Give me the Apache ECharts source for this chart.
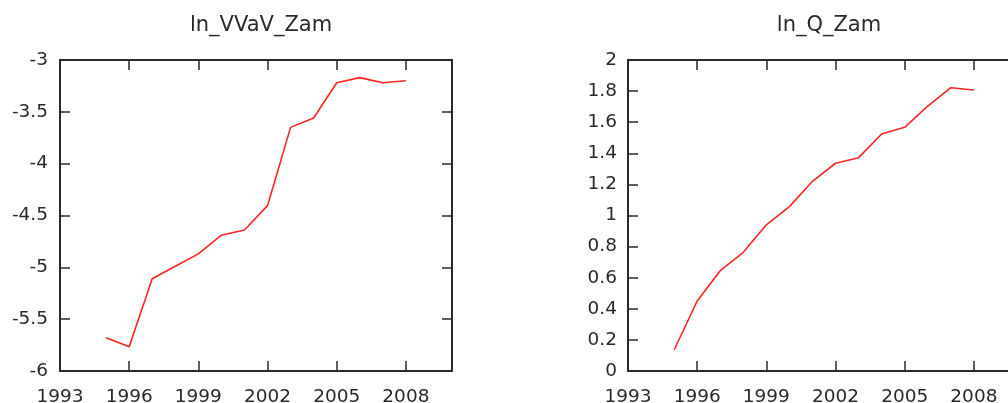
<!DOCTYPE html>
<html>
<head>
<meta charset="utf-8">
<script src="https://cdn.jsdelivr.net/npm/echarts@6/dist/echarts.min.js"></script>
<style>
  html, body { margin: 0; padding: 0; background: #fff; }
  #chart { width: 1008px; height: 403px; }
</style>
</head>
<body>
<div id="chart"></div>
<script>
// Yearly series
const years = [1995, 1996, 1997, 1998, 1999, 2000, 2001, 2002, 2003, 2004, 2005, 2006, 2007, 2008];
const lnVVaVZam = [-5.68, -5.765, -5.11, -4.99, -4.87, -4.69, -4.64, -4.405, -3.65, -3.56, -3.22, -3.17, -3.22, -3.20];
const lnQZam = [0.135, 0.45, 0.645, 0.763, 0.94, 1.057, 1.22, 1.336, 1.372, 1.524, 1.567, 1.704, 1.822, 1.807];

const titles = ['ln_VVaV_Zam', 'ln_Q_Zam'];
const xRange = { min: 1993, max: 2010, interval: 3 };
const yRanges = [
  { min: -6, max: -3, interval: 0.5 },
  { min: 0, max: 2, interval: 0.2 }
];

const FONT = 'DejaVu Sans';
const TEXT = '#2a2a2a';
const AXIS = '#2a2a2a';
const RED = '#ff2424';

// fixed plot boxes; the second one runs past the right edge of the canvas
const grids = [
  { left: 60, top: 60, width: 392, height: 311 },
  { left: 628, top: 60, width: 392, height: 311 }
];

const lineStyle = { color: AXIS, width: 2 };
const tickStyle = { color: AXIS, width: 1.5 };

const xAxis = [];
const yAxis = [];
const series = [];
const graphic = [];
const seriesData = [lnVVaVZam, lnQZam];
const yLabelMargin = [12, 11];

grids.forEach((g, i) => {
  // bottom axis with year labels
  xAxis.push({
    type: 'value', gridIndex: i, position: 'bottom',
    min: xRange.min, max: xRange.max, interval: xRange.interval,
    axisLine: { show: true, lineStyle },
    axisTick: { show: true, inside: true, length: 10, lineStyle: tickStyle },
    axisLabel: {
      show: true, margin: 17, showMaxLabel: false,
      formatter: v => String(v),
      fontFamily: FONT, fontSize: 18.5, color: TEXT
    },
    splitLine: { show: false }
  });
  // top frame edge with mirrored ticks
  xAxis.push({
    type: 'value', gridIndex: i, position: 'top',
    min: xRange.min, max: xRange.max, interval: xRange.interval,
    axisLine: { show: true, onZero: false, lineStyle },
    axisTick: { show: true, inside: true, length: 10, lineStyle: tickStyle },
    axisLabel: { show: false },
    splitLine: { show: false }
  });
  const yr = yRanges[i];
  yAxis.push({
    type: 'value', gridIndex: i, position: 'left',
    min: yr.min, max: yr.max, interval: yr.interval,
    axisLine: { show: true, onZero: false, lineStyle },
    axisTick: { show: true, inside: true, length: 10, lineStyle: tickStyle },
    axisLabel: {
      show: true, margin: yLabelMargin[i],
      padding: [4, 0, 0, 0],
      fontFamily: FONT, fontSize: 18.5, color: TEXT
    },
    splitLine: { show: false }
  });
  yAxis.push({
    type: 'value', gridIndex: i, position: 'right',
    min: yr.min, max: yr.max, interval: yr.interval,
    axisLine: { show: true, onZero: false, lineStyle },
    axisTick: { show: true, inside: true, length: 10, lineStyle: tickStyle },
    axisLabel: { show: false },
    splitLine: { show: false }
  });
  series.push({
    type: 'line',
    xAxisIndex: i * 2,
    yAxisIndex: i * 2,
    data: years.map((y, k) => [y, seriesData[i][k]]),
    showSymbol: false,
    symbol: 'none',
    lineStyle: { color: RED, width: 1.6 },
    animation: false,
    silent: true
  });
  graphic.push({
    type: 'text',
    x: g.left + g.width / 2 + 5,
    y: 26,
    style: {
      text: titles[i],
      fontFamily: FONT,
      fontSize: 21,
      fill: TEXT,
      textAlign: 'center',
      textVerticalAlign: 'middle'
    }
  });
});

const chart = echarts.init(document.getElementById('chart'), null, { renderer: 'canvas' });
chart.setOption({
  animation: false,
  backgroundColor: '#ffffff',
  grid: grids.map(g => Object.assign({ containLabel: false, outerBoundsMode: 'none' }, g)),
  xAxis,
  yAxis,
  series,
  graphic
});
</script>
</body>
</html>
